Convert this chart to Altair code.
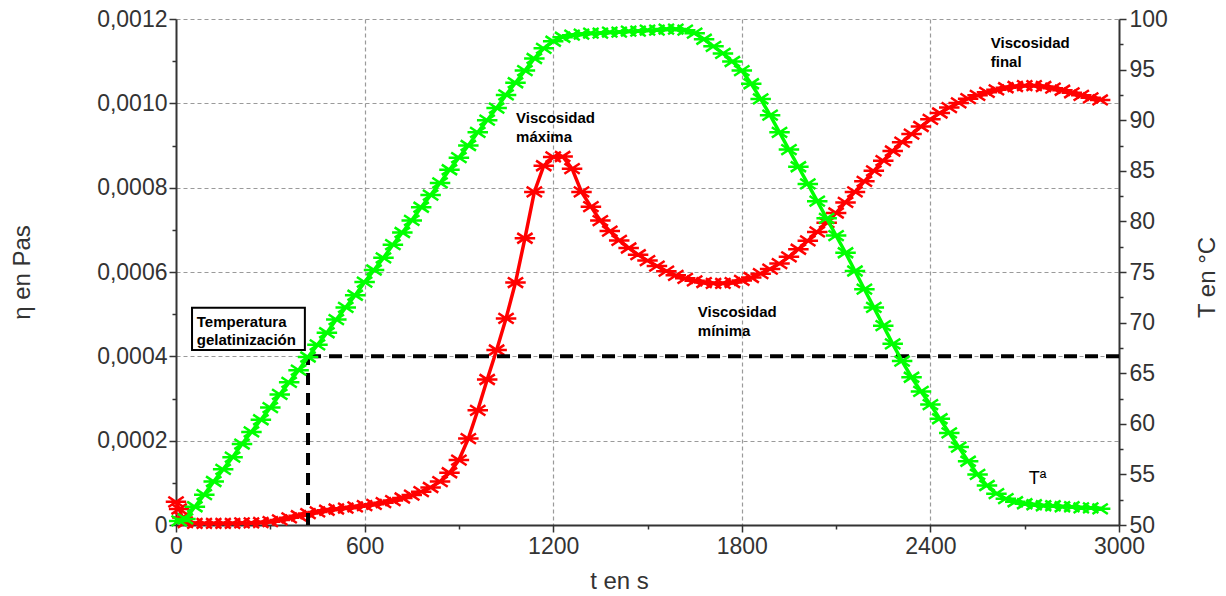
import altair as alt
import pandas as pd

# ---- data ----
temp_t = [10, 30, 60, 90, 120, 150, 180, 210, 240, 270, 300, 330, 360, 390, 420, 450, 480, 510, 540, 570,
          600, 630, 660, 690, 720, 750, 780, 810, 840, 870, 900, 930, 960, 990, 1020, 1050, 1080, 1110, 1140, 1170,
          1200, 1230, 1260, 1290, 1320, 1350, 1380, 1410, 1440, 1470, 1500, 1530, 1560, 1590, 1620, 1650, 1680, 1710,
          1740, 1770, 1800, 1830, 1860, 1890, 1920, 1950, 1980, 2010, 2040, 2070, 2100, 2130, 2160, 2190, 2220, 2250,
          2280, 2310, 2340, 2370, 2400, 2430, 2460, 2490, 2520, 2550, 2580, 2610, 2640, 2670, 2700, 2730, 2760, 2790,
          2820, 2850, 2880, 2910, 2940]
temp_T = [50.4, 50.6, 51.8, 53.0, 54.3, 55.5, 56.7, 58.0, 59.2, 60.4, 61.6, 62.9, 64.1, 65.3, 66.6, 67.8, 69.0, 70.3, 71.5, 72.7,
          74.0, 75.2, 76.4, 77.7, 78.9, 80.1, 81.4, 82.6, 83.8, 85.1, 86.3, 87.5, 88.8, 90.0, 91.2, 92.5, 93.7, 94.9, 96.1, 97.1,
          97.8, 98.2, 98.4, 98.5, 98.6, 98.6, 98.7, 98.7, 98.8, 98.8, 98.9, 98.9, 99.0, 99.0, 98.9, 98.6, 98.0, 97.3,
          96.6, 95.8, 94.9, 93.6, 92.1, 90.5, 88.8, 87.1, 85.4, 83.7, 82.0, 80.3, 78.6, 76.9, 75.1, 73.3, 71.5, 69.7,
          67.9, 66.2, 64.6, 63.2, 61.9, 60.5, 59.1, 57.7, 56.3, 55.0, 53.9, 53.1, 52.6, 52.3, 52.1, 52.0, 51.9, 51.9,
          51.8, 51.8, 51.7, 51.7, 51.6]

visc_t = [0, 10, 20, 30, 60, 90, 120, 150, 180, 210, 240, 270, 300, 330, 360, 390, 420, 450, 480, 510, 540, 570,
          600, 630, 660, 690, 720, 750, 780, 810, 840, 870, 900, 930, 960, 990, 1020, 1050, 1080, 1110, 1140, 1170,
          1200, 1230, 1260, 1290, 1320, 1350, 1380, 1410, 1440, 1470, 1500, 1530, 1560, 1590, 1620, 1650, 1680, 1710,
          1740, 1770, 1800, 1830, 1860, 1890, 1920, 1950, 1980, 2010, 2040, 2070, 2100, 2130, 2160, 2190, 2220, 2250,
          2280, 2310, 2340, 2370, 2400, 2430, 2460, 2490, 2520, 2550, 2580, 2610, 2640, 2670, 2700, 2730, 2760, 2790,
          2820, 2850, 2880, 2910, 2940]
visc_eta = [0.000055, 0.000038, 0.000018, 0.000006, 0.000004, 0.000004, 0.000004, 0.000004, 0.000004, 0.000005,
            0.000005, 0.000006, 0.000008, 0.000012, 0.000017, 0.000022, 0.000027, 0.000031, 0.000035, 0.000038,
            0.000040, 0.000043, 0.000046, 0.000049, 0.000053, 0.000058, 0.000064, 0.000071, 0.000079, 0.000089,
            0.000103, 0.000124, 0.000154, 0.000205, 0.000272, 0.000345, 0.000415, 0.000490, 0.000575, 0.000680,
            0.000790, 0.000852, 0.000873, 0.000874, 0.000845, 0.000790, 0.000755, 0.000722, 0.000697, 0.000675,
            0.000657, 0.000641, 0.000627, 0.000614, 0.000602, 0.000592, 0.000585, 0.000579, 0.000575, 0.000573,
            0.000573, 0.000575, 0.000580, 0.000587, 0.000596, 0.000607, 0.000620, 0.000636, 0.000654, 0.000674,
            0.000695, 0.000717, 0.000740, 0.000765, 0.000790, 0.000815, 0.000840, 0.000864, 0.000887, 0.000908,
            0.000927, 0.000945, 0.000962, 0.000977, 0.000990, 0.001001, 0.001011, 0.001019, 0.001026, 0.001032,
            0.001037, 0.001040, 0.001042, 0.001042, 0.001040, 0.001036, 0.001031, 0.001025, 0.001019, 0.001013,
            0.001008]

gel_time = 420          # gelatinisation time (s)
gel_eta = 0.0004        # viscosity level of the dashed guide

ann_labels = ["Viscosidad\nmáxima", "Viscosidad\nmínima", "Viscosidad\nfinal"]
ann_t = [1082, 1660, 2592]
ann_eta = [0.000953, 0.000493, 0.001131]

box_label = "Temperatura\ngelatinización"
box_t = [51, 410]
box_eta = [0.000415, 0.000515]
box_text_t = 66
box_text_eta = 0.000470

ta_label = "Tª"
ta_t = 2713
ta_eta = 0.000097

x_values = [0, 300, 600, 900, 1200, 1500, 1800, 2100, 2400, 2700, 3000]
eta_values = [0, 0.0001, 0.0002, 0.0003, 0.0004, 0.0005, 0.0006, 0.0007, 0.0008, 0.0009, 0.0010, 0.0011, 0.0012]
T_values = [50, 52.5, 55, 57.5, 60, 62.5, 65, 67.5, 70, 72.5, 75, 77.5, 80, 82.5, 85, 87.5, 90, 92.5, 95, 97.5, 100]

# ---- frames ----
temp_df = pd.DataFrame({"t": temp_t, "T": temp_T})
visc_df = pd.DataFrame({"t": visc_t, "eta": visc_eta})
ann_df = pd.DataFrame({"t": ann_t, "eta": ann_eta, "label": ann_labels})
box_df = pd.DataFrame({"t": [box_t[0]], "t2": [box_t[1]], "eta": [box_eta[0]], "eta2": [box_eta[1]]})
boxtxt_df = pd.DataFrame({"t": [box_text_t], "eta": [box_text_eta], "label": [box_label]})
ta_df = pd.DataFrame({"t": [ta_t], "eta": [ta_eta], "label": [ta_label]})
vguide_df = pd.DataFrame({"t": [gel_time], "t2": [gel_time], "eta": [0.0], "eta2": [gel_eta]})
hguide_df = pd.DataFrame({"t": [gel_time], "t2": [3000], "eta": [gel_eta], "eta2": [gel_eta]})

FONT = "Liberation Sans"
LABEL_COLOR = "#333333"
ASTERISK = "M-1,0L1,0M-0.75,-0.5L0.75,0.5M-0.75,0.5L0.75,-0.5"

x_axis = alt.Axis(
    values=x_values, title="t en s", titleX=443, titleY=56, titleBaseline="middle",
    titleFont=FONT, titleFontSize=24, titleFontWeight="normal", titleColor=LABEL_COLOR,
    labelFont=FONT, labelFontSize=23, labelColor=LABEL_COLOR, labelPadding=3,
    labelExpr="datum.value % 600 == 0 ? format(datum.value, 'd') : ''",
    labelFlush=False, labelOverlap=False,
    tickSize={"condition": {"test": "datum.value % 600 == 0", "value": 7}, "value": 4},
    tickColor="#333333", tickWidth=1.5, domainColor="#333333", domainWidth=2,
    grid=True, gridColor="#9a9a9a", gridDash=[4, 3], gridWidth=1.2,
    gridOpacity={"condition": {"test": "datum.value % 600 == 0 && datum.value > 0 && datum.value < 3000",
                               "value": 1}, "value": 0},
)
x_scale = alt.Scale(domain=[0, 3000], nice=False, zero=False)

eta_axis = alt.Axis(
    values=eta_values, title="η en Pas", orient="left", titleX=-154, titleY=253, titleAngle=270,
    titleBaseline="middle", titleAlign="center",
    titleFont=FONT, titleFontSize=24, titleFontWeight="normal", titleColor=LABEL_COLOR,
    labelFont=FONT, labelFontSize=23, labelColor=LABEL_COLOR, labelPadding=2,
    labelExpr="round(datum.value*10000) % 2 == 0 ? (datum.value == 0 ? '0' : replace(format(datum.value, '.4f'), '.', ',')) : ''",
    labelOverlap=False, labelFlush=False,
    tickSize={"condition": {"test": "round(datum.value*10000) % 2 == 0", "value": 7}, "value": 4},
    tickColor="#333333", tickWidth=1.5, domainColor="#333333", domainWidth=2,
    grid=True, gridColor="#9a9a9a", gridDash=[4, 3], gridWidth=1.2,
    gridOpacity={"condition": {"test": "round(datum.value*10000) % 2 == 0 && datum.value > 0", "value": 1},
                 "value": 0},
)
eta_scale = alt.Scale(domain=[0, 0.0012], nice=False, zero=False)

T_axis = alt.Axis(
    values=T_values, title="T en °C", orient="right", titleX=88, titleY=258, titleAngle=270,
    titleBaseline="middle", titleAlign="center",
    titleFont=FONT, titleFontSize=24, titleFontWeight="normal", titleColor=LABEL_COLOR,
    labelFont=FONT, labelFontSize=23, labelColor=LABEL_COLOR, labelPadding=3,
    labelExpr="datum.value % 5 == 0 ? format(datum.value, 'd') : ''",
    labelOverlap=False, labelFlush=False,
    tickSize={"condition": {"test": "datum.value % 5 == 0", "value": 7}, "value": 4},
    tickColor="#333333", tickWidth=1.5, domainColor="#333333", domainWidth=2,
    grid=False,
)
T_scale = alt.Scale(domain=[50, 100], nice=False, zero=False)

X = alt.X("t:Q", scale=x_scale, axis=x_axis)
Y_eta = alt.Y("eta:Q", scale=eta_scale, axis=eta_axis)

# viscosity (left axis)
visc_line = alt.Chart(visc_df).mark_line(color="#ff0000", strokeWidth=3.5).encode(x=X, y=Y_eta)
visc_pts = alt.Chart(visc_df).mark_point(shape=ASTERISK, size=420, filled=False, color="#ff0000",
                                         strokeWidth=2.5, opacity=1).encode(x=X, y=Y_eta)

vguide = alt.Chart(vguide_df).mark_rule(color="black", strokeWidth=4, strokeDash=[12, 8]).encode(
    x=X, x2="t2:Q", y=Y_eta, y2="eta2:Q")
hguide = alt.Chart(hguide_df).mark_rule(color="black", strokeWidth=4, strokeDash=[13, 8]).encode(
    x=X, x2="t2:Q", y=Y_eta, y2="eta2:Q")

box = alt.Chart(box_df).mark_rect(fill="white", stroke="black", strokeWidth=2).encode(
    x=X, x2="t2:Q", y=Y_eta, y2="eta2:Q")
box_text = alt.Chart(boxtxt_df).mark_text(align="left", baseline="alphabetic", font=FONT, fontSize=15,
                                          fontWeight="bold", lineBreak="\n", lineHeight=18,
                                          color="black").encode(x=X, y=Y_eta, text="label:N")
ann = alt.Chart(ann_df).mark_text(align="left", baseline="alphabetic", font=FONT, fontSize=15,
                                  fontWeight="bold", lineBreak="\n", lineHeight=19,
                                  color="black").encode(x=X, y=Y_eta, text="label:N")
ta = alt.Chart(ta_df).mark_text(align="left", baseline="alphabetic", font=FONT, fontSize=18,
                                color="black").encode(x=X, y=Y_eta, text="label:N")

left = alt.layer(visc_line, visc_pts, vguide, hguide, box, box_text, ann, ta)

# temperature (right axis)
Y_T = alt.Y("T:Q", scale=T_scale, axis=T_axis)
temp_line = alt.Chart(temp_df).mark_line(color="#00ff00", strokeWidth=3.5).encode(x=X, y=Y_T)
temp_pts = alt.Chart(temp_df).mark_point(shape=ASTERISK, size=420, filled=False, color="#00ff00",
                                         strokeWidth=2.5, opacity=1).encode(x=X, y=Y_T)
right = alt.layer(temp_line, temp_pts)

chart = alt.layer(left, right).resolve_scale(y="independent").properties(
    width=943, height=506,
    padding={"left": 176, "top": 19, "right": 107, "bottom": 71},
    autosize=alt.AutoSizeParams(type="none"),
    background="white",
).configure_view(strokeWidth=0)

chart.save("out.html", embed_options={"renderer": "svg", "actions": False})
